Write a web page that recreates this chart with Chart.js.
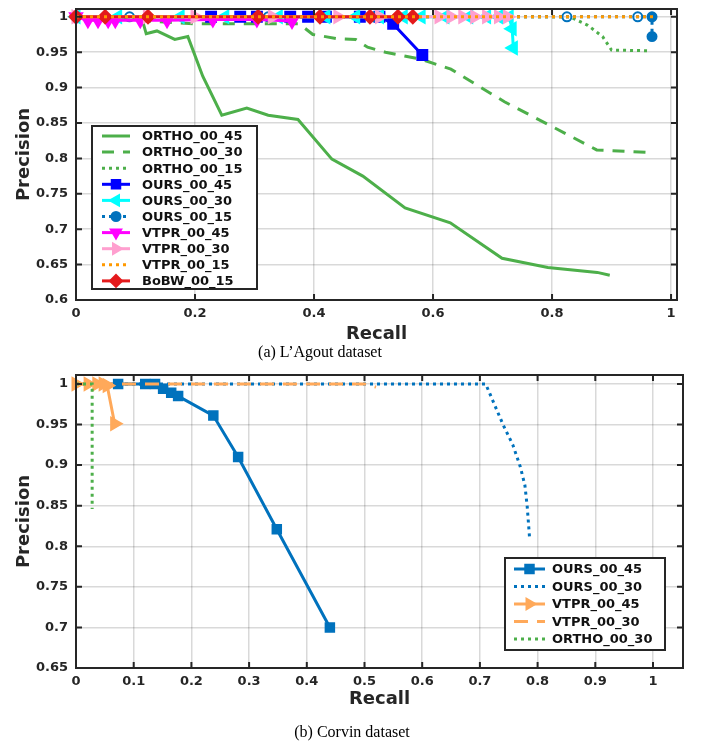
<!DOCTYPE html>
<html>
<head>
<meta charset="utf-8">
<script src="https://cdn.jsdelivr.net/npm/chart.js@4.4.0/dist/chart.umd.min.js"></script>
<style>
  body { margin: 0; background: #fff; width: 702px; height: 745px; position: relative; overflow: hidden; }
  canvas { position: absolute; left: 0; }
  #chartA { top: 0; }
  #chartB { top: 365px; }
  .cap { position: absolute; left: 0; text-align: center; font-family: 'Liberation Serif', 'DejaVu Serif', serif; font-size: 16px; color: #000; }
</style>
</head>
<body>
<canvas id="chartA" width="702" height="345"></canvas>
<div class="cap" style="top:343px;width:640px">(a) L’Agout dataset</div>
<canvas id="chartB" width="702" height="345"></canvas>
<div class="cap" style="top:723px;width:704px">(b) Corvin dataset</div>
<script>
// Tick values
const xTicksA = [0, 0.2, 0.4, 0.6, 0.8, 1];
const yTicksA = [0.6, 0.65, 0.7, 0.75, 0.8, 0.85, 0.9, 0.95, 1];
const xTicksB = [0, 0.1, 0.2, 0.3, 0.4, 0.5, 0.6, 0.7, 0.8, 0.9, 1];
const yTicksB = [0.65, 0.7, 0.75, 0.8, 0.85, 0.9, 0.95, 1];

// (a) L'Agout dataset: [recall, precision]
const orthoA45 = [[0, 1], [0.11, 1], [0.118, 0.976], [0.136, 0.98], [0.166, 0.968], [0.188, 0.972], [0.213, 0.916],
  [0.245, 0.861], [0.287, 0.871], [0.323, 0.861], [0.373, 0.855], [0.43, 0.799], [0.482, 0.775], [0.553, 0.73],
  [0.629, 0.709], [0.716, 0.659], [0.793, 0.646], [0.876, 0.639], [0.897, 0.635]];
const orthoA30 = [[0, 1], [0.2, 0.99], [0.375, 0.99], [0.398, 0.975], [0.44, 0.969], [0.47, 0.968], [0.49, 0.957],
  [0.52, 0.95], [0.58, 0.94], [0.63, 0.926], [0.72, 0.88], [0.8, 0.845], [0.875, 0.812], [0.97, 0.808]];
const orthoA15 = [[0, 1], [0.83, 1], [0.86, 0.988], [0.885, 0.972], [0.9, 0.953], [0.965, 0.952]];
const oursA45 = [[0.227, 1], [0.276, 1], [0.304, 1], [0.36, 1], [0.39, 1], [0.42, 1], [0.477, 1], [0.51, 1],
  [0.533, 0.99], [0.582, 0.946]];
const oursA30 = [[0, 1], [0.07, 1], [0.175, 1], [0.25, 1], [0.34, 1], [0.42, 1], [0.47, 1], [0.51, 1], [0.55, 1],
  [0.58, 1], [0.62, 1], [0.66, 1], [0.69, 1], [0.71, 1], [0.728, 1], [0.733, 0.983], [0.735, 0.956]];
const oursA15 = [[0, 1], [0.09, 1], [0.323, 1], [0.5, 1], [0.825, 1], [0.944, 1], [0.968, 1], [0.968, 0.972]];
const vtprA45 = [[0, 1], [0.02, 0.995], [0.037, 0.995], [0.054, 0.995], [0.066, 0.995], [0.108, 0.995],
  [0.153, 0.995], [0.23, 0.996], [0.304, 0.996], [0.363, 0.994]];
const vtprA30 = [[0, 1], [0.12, 1], [0.2, 1], [0.33, 1], [0.44, 1], [0.51, 1], [0.61, 1], [0.63, 1], [0.65, 1],
  [0.67, 1], [0.69, 1], [0.71, 1], [0.725, 1]];
const vtprA15 = [[0, 1], [0.97, 1]];
const bobwA15 = [[0, 1], [0.049, 1], [0.121, 1], [0.306, 1], [0.41, 1], [0.494, 1], [0.541, 1], [0.566, 1]];

// (b) Corvin dataset
const oursB45 = [[0.073, 1], [0.12, 1], [0.137, 1], [0.151, 0.994], [0.165, 0.989], [0.177, 0.985], [0.238, 0.961],
  [0.281, 0.91], [0.348, 0.821], [0.44, 0.7]];
const oursB30 = [[0, 1], [0.71, 1], [0.74, 0.95], [0.757, 0.925], [0.77, 0.898], [0.778, 0.875], [0.782, 0.849],
  [0.786, 0.811]];
const vtprB45 = [[0, 1], [0.021, 1], [0.036, 1], [0.047, 1], [0.054, 0.998], [0.067, 0.951]];
const vtprB30 = [[0, 1], [0.5, 1], [0.52, 0.996]];
const orthoB30 = [[0, 1], [0.028, 1], [0.028, 0.846]];

const FONT = "'DejaVu Sans', sans-serif";
const GREEN = '#4daf4a';
const MBLUE = '#0072bd';
const LORANGE = '#ffa95a';
const CLEAR = 'rgba(0,0,0,0)';
const DOT = [3, 4];
const DASH = [12, 9];

function series(label, pts, style) {
  return Object.assign({
    label,
    data: pts.map(p => ({ x: p[0], y: p[1] })),
    fill: false,
    tension: 0,
    borderWidth: 3,
    borderDash: [],
    pointRadius: 0,
    pointHoverRadius: 0,
    clip: false
  }, style);
}

function marker(style, color, radius, rotation, fill) {
  return {
    pointStyle: style,
    pointRadius: radius,
    pointRotation: rotation || 0,
    pointBorderColor: color,
    pointBackgroundColor: fill === undefined ? color : fill,
    pointBorderWidth: 2
  };
}

// Black frame and inward tick marks
const framePlugin = {
  id: 'frame',
  afterDatasetsDraw(chart) {
    const { ctx, chartArea: a, scales } = chart;
    ctx.save();
    ctx.strokeStyle = '#262626';
    ctx.lineWidth = 2;
    ctx.setLineDash([]);
    ctx.strokeRect(a.left, a.top, a.right - a.left, a.bottom - a.top);
    const len = 6;
    ctx.beginPath();
    scales.x.ticks.forEach(t => {
      const px = scales.x.getPixelForValue(t.value);
      ctx.moveTo(px, a.bottom); ctx.lineTo(px, a.bottom - len);
      ctx.moveTo(px, a.top); ctx.lineTo(px, a.top + len);
    });
    scales.y.ticks.forEach(t => {
      const py = scales.y.getPixelForValue(t.value);
      ctx.moveTo(a.left, py); ctx.lineTo(a.left + len, py);
      ctx.moveTo(a.right, py); ctx.lineTo(a.right - len, py);
    });
    ctx.stroke();
    ctx.restore();
  }
};

// Boxed legend inside the plot
const boxLegendPlugin = {
  id: 'boxLegend',
  afterDraw(chart, args, o) {
    const ctx = chart.ctx;
    ctx.save();
    ctx.fillStyle = '#fff';
    ctx.fillRect(o.x, o.y, o.w, o.h);
    ctx.strokeStyle = '#262626';
    ctx.lineWidth = 2;
    ctx.setLineDash([]);
    ctx.strokeRect(o.x, o.y, o.w, o.h);
    ctx.font = 'bold 13px ' + FONT;
    ctx.textBaseline = 'middle';
    chart.data.datasets.forEach((ds, i) => {
      const cy = o.y + o.first + i * o.rowH;
      ctx.strokeStyle = ds.borderColor;
      ctx.lineWidth = ds.borderWidth;
      ctx.setLineDash(ds.borderDash || []);
      ctx.beginPath();
      ctx.moveTo(o.x + o.l0, cy);
      ctx.lineTo(o.x + o.l1, cy);
      ctx.stroke();
      ctx.setLineDash([]);
      if (ds.pointRadius > 0 && Chart.helpers && Chart.helpers.drawPoint) {
        const bg = ds.pointBackgroundColor;
        ctx.fillStyle = Array.isArray(bg) ? ds.pointBorderColor : bg;
        ctx.strokeStyle = ds.pointBorderColor;
        ctx.lineWidth = ds.pointBorderWidth;
        Chart.helpers.drawPoint(ctx, {
          pointStyle: ds.pointStyle, rotation: ds.pointRotation,
          radius: Math.min(ds.pointRadius, 6), borderWidth: ds.pointBorderWidth
        }, o.x + (o.l0 + o.l1) / 2, cy);
      }
      ctx.fillStyle = '#111';
      ctx.fillText(ds.label, o.x + o.tx, cy + 1);
    });
    ctx.restore();
  }
};

function baseOptions(xTicks, yTicks, xMax, yMin, yMax, pad, xH, legend) {
  const tickFont = { family: FONT, size: 13, weight: 'bold' };
  const titleFont = { family: FONT, size: 18, weight: 'bold' };
  return {
    responsive: false,
    animation: false,
    devicePixelRatio: 1,
    layout: { padding: pad },
    plugins: { legend: { display: false }, tooltip: { enabled: false }, boxLegend: legend },
    scales: {
      x: {
        type: 'linear', min: 0, max: xMax,
        afterBuildTicks: s => { s.ticks = xTicks.map(v => ({ value: v })); },
        afterFit: s => { s.height = xH; s.paddingLeft = 0; s.paddingRight = 0; },
        ticks: { font: tickFont, color: '#262626', padding: 6, maxRotation: 0, callback: v => String(v) },
        grid: { color: 'rgba(0,0,0,0.15)', lineWidth: 1.5, drawTicks: false },
        border: { display: false },
        title: { display: true, text: 'Recall', font: titleFont, color: '#262626', padding: 0 }
      },
      y: {
        type: 'linear', min: yMin, max: yMax,
        afterBuildTicks: s => { s.ticks = yTicks.map(v => ({ value: v })); },
        afterFit: s => { s.width = 62; s.paddingTop = 0; s.paddingBottom = 0; },
        ticks: { font: tickFont, color: '#262626', padding: 8, callback: v => String(v) },
        grid: { color: 'rgba(0,0,0,0.15)', lineWidth: 1.5, drawTicks: false },
        border: { display: false },
        title: { display: true, text: 'Precision', font: titleFont, color: '#262626', padding: 0 }
      }
    }
  };
}

const datasetsA = [
  series('ORTHO_00_45', orthoA45, { borderColor: GREEN }),
  series('ORTHO_00_30', orthoA30, { borderColor: GREEN, borderDash: DASH }),
  series('ORTHO_00_15', orthoA15, { borderColor: GREEN, borderDash: DOT }),
  series('OURS_00_45', oursA45, Object.assign({ borderColor: '#0000ff' }, marker('rect', '#0000ff', 7))),
  series('OURS_00_30', oursA30, Object.assign({ borderColor: '#00ffff' }, marker('triangle', '#00ffff', 7, 270))),
  series('OURS_00_15', oursA15, Object.assign({ borderColor: MBLUE, borderDash: DOT },
    marker('circle', MBLUE, 4.5, 0, [CLEAR, CLEAR, CLEAR, CLEAR, CLEAR, CLEAR, MBLUE, MBLUE]))),
  series('VTPR_00_45', vtprA45, Object.assign({ borderColor: '#ff00ff' }, marker('triangle', '#ff00ff', 7, 180))),
  series('VTPR_00_30', vtprA30, Object.assign({ borderColor: '#ff9fcf' }, marker('triangle', '#ff9fcf', 7, 90))),
  series('VTPR_00_15', vtprA15, { borderColor: '#ff9900', borderDash: DOT }),
  series('BoBW_00_15', bobwA15, Object.assign({ borderColor: '#e41a1c' }, marker('rectRot', '#e41a1c', 6.5)))
];
// later series drawn on top, orange dotted line topmost
datasetsA.forEach((ds, i) => { ds.order = datasetsA.length - i; });
datasetsA[8].order = 0;

const datasetsB = [
  series('OURS_00_45', oursB45, Object.assign({ borderColor: MBLUE }, marker('rect', MBLUE, 6))),
  series('OURS_00_30', oursB30, { borderColor: MBLUE, borderDash: DOT }),
  series('VTPR_00_45', vtprB45, Object.assign({ borderColor: LORANGE }, marker('triangle', LORANGE, 7, 90))),
  series('VTPR_00_30', vtprB30, { borderColor: LORANGE, borderDash: [14, 9] }),
  series('ORTHO_00_30', orthoB30, { borderColor: GREEN, borderDash: DOT })
];
datasetsB.forEach((ds, i) => { ds.order = datasetsB.length - i; });

new Chart(document.getElementById('chartA'), {
  type: 'line',
  data: { datasets: datasetsA },
  options: baseOptions(xTicksA, yTicksA, 1.01, 0.6, 1.011, { top: 7, right: 25, left: 14, bottom: 0 }, 45,
    { x: 92, y: 126, w: 165, h: 163, first: 10, rowH: 16.1, l0: 10, l1: 38, tx: 50 }),
  plugins: [framePlugin, boxLegendPlugin]
});

new Chart(document.getElementById('chartB'), {
  type: 'line',
  data: { datasets: datasetsB },
  options: baseOptions(xTicksB, yTicksB, 1.052, 0.65, 1.011, { top: 10, right: 19, left: 14, bottom: 0 }, 42,
    { x: 505, y: 193, w: 160, h: 92, first: 11, rowH: 17.5, l0: 9, l1: 40, tx: 47 }),
  plugins: [framePlugin, boxLegendPlugin]
});
</script>
</body>
</html>
